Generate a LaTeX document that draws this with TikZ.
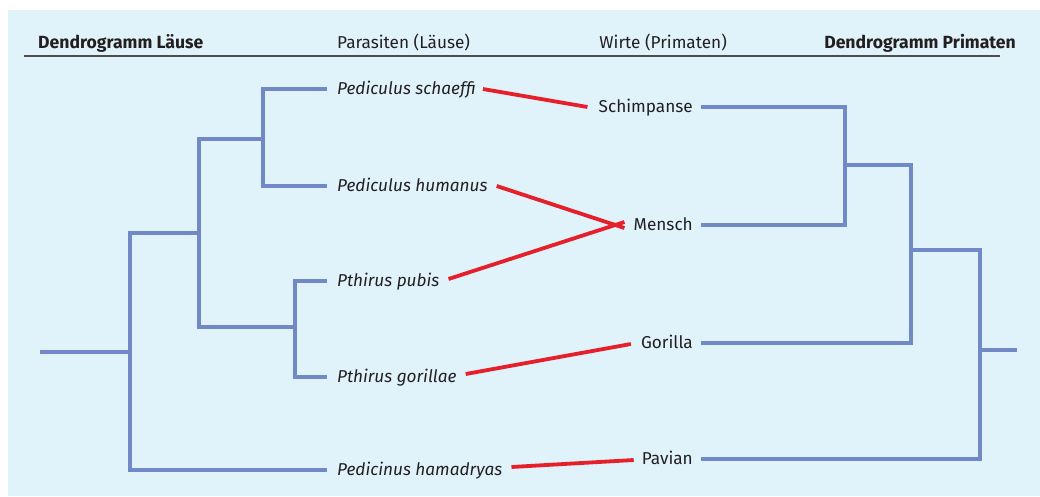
\documentclass[tikz,border=0pt]{standalone}
\usepackage{fontspec}
\setmainfont{Fira Sans}
\definecolor{bgblue}{HTML}{E0F3FA}
\definecolor{treeblue}{HTML}{7189C7}
\definecolor{linkred}{HTML}{E5202A}
\definecolor{txt}{HTML}{231F20}
\begin{document}
\begin{tikzpicture}[x=1pt,y=-1pt,
  tree/.style={draw=treeblue,line width=3.5pt,line join=miter},
  link/.style={draw=linkred,line width=3.8pt},
  lbl/.style={inner sep=0pt,text=txt,font=\fontsize{17.2}{20}\selectfont,text height=13pt,text depth=2pt},
  para/.style={lbl,anchor=west,font=\fontsize{17.2}{20}\selectfont\itshape},
  host/.style={lbl,anchor=east},
  head/.style={lbl}]
\useasboundingbox (0,0) rectangle (1040,496);
\fill[white] (0,0) rectangle (1040,496);
\fill[bgblue] (8,10) rectangle (1040,496);
% header
\node[head,anchor=west,font=\fontsize{17.6}{20}\selectfont\bfseries] (h1) at (38,43) {Dendrogramm Läuse};
\node[head,anchor=west] (h2) at (337,43) {Parasiten (Läuse)};
\node[head,anchor=east] (h3) at (727,43) {Wirte (Primaten)};
\node[head,anchor=east,font=\fontsize{17.6}{20}\selectfont\bfseries] (h4) at (1016,43) {Dendrogramm Primaten};
\coordinate (hl) at (24,56);
\coordinate (hr) at (1000,56);
\draw[txt!80,line width=1.2pt] (hl) -- (hr);
% parasites
\node[para] (ps) at (337,89) {Pediculus schaeffi};
\node[para] (ph) at (337,186) {Pediculus humanus};
\node[para] (pp) at (337,281) {Pthirus pubis};
\node[para] (pg) at (337,377) {Pthirus gorillae};
\node[para] (pha) at (337,470) {Pedicinus hamadryas};
% hosts
\node[host] (hs) at (693,107) {Schimpanse};
\node[host] (hm) at (693,225) {Mensch};
\node[host] (hg) at (693,343) {Gorilla};
\node[host] (hp) at (693,459) {Pavian};
% left dendrogram
\coordinate (L0) at (40,352);
\coordinate (La) at (130,352);
\coordinate (Lb) at (199,233);
\coordinate (Lc) at (263,139);
\coordinate (Ld) at (295,327);
\draw[tree] (L0) -- (La);
\draw[tree] (Lb) -| (La) |- ([xshift=-10pt]pha.west);
\draw[tree] (Lc) -| (Lb) |- (Ld);
\draw[tree] ([xshift=-10pt]ps.west) -| (Lc) |- ([xshift=-10pt]ph.west);
\draw[tree] ([xshift=-10pt]pp.west) -| (Ld) |- ([xshift=-10pt]pg.west);
% right dendrogram
\coordinate (Ra) at (845,165);
\coordinate (Rb) at (911,250);
\coordinate (Rc) at (980,350);
\coordinate (R0) at (1017,350);
\draw[tree] ([xshift=8pt]hs.east) -| (Ra) |- ([xshift=8pt]hm.east);
\draw[tree] (Ra) -| (Rb) |- ([xshift=8pt]hg.east);
\draw[tree] (Rb) -| (Rc) |- ([xshift=8pt]hp.east);
\draw[tree] (Rc) -- (R0);
% links
\draw[link] ([xshift=7pt]ps.east) -- ([xshift=-11pt]hs.west);
\draw[link] ([xshift=9pt]ph.east) -- ([xshift=-9pt,yshift=-3pt]hm.west);
\draw[link] ([xshift=9pt,yshift=2pt]pp.east) -- ([xshift=-9pt,yshift=3pt]hm.west);
\draw[link] ([xshift=9pt,yshift=3pt]pg.east) -- ([xshift=-10pt,yshift=-1pt]hg.west);
\draw[link] ([xshift=9pt,yshift=3pt]pha.east) -- ([xshift=-8pt,yshift=-1pt]hp.west);
\end{tikzpicture}
\end{document}
